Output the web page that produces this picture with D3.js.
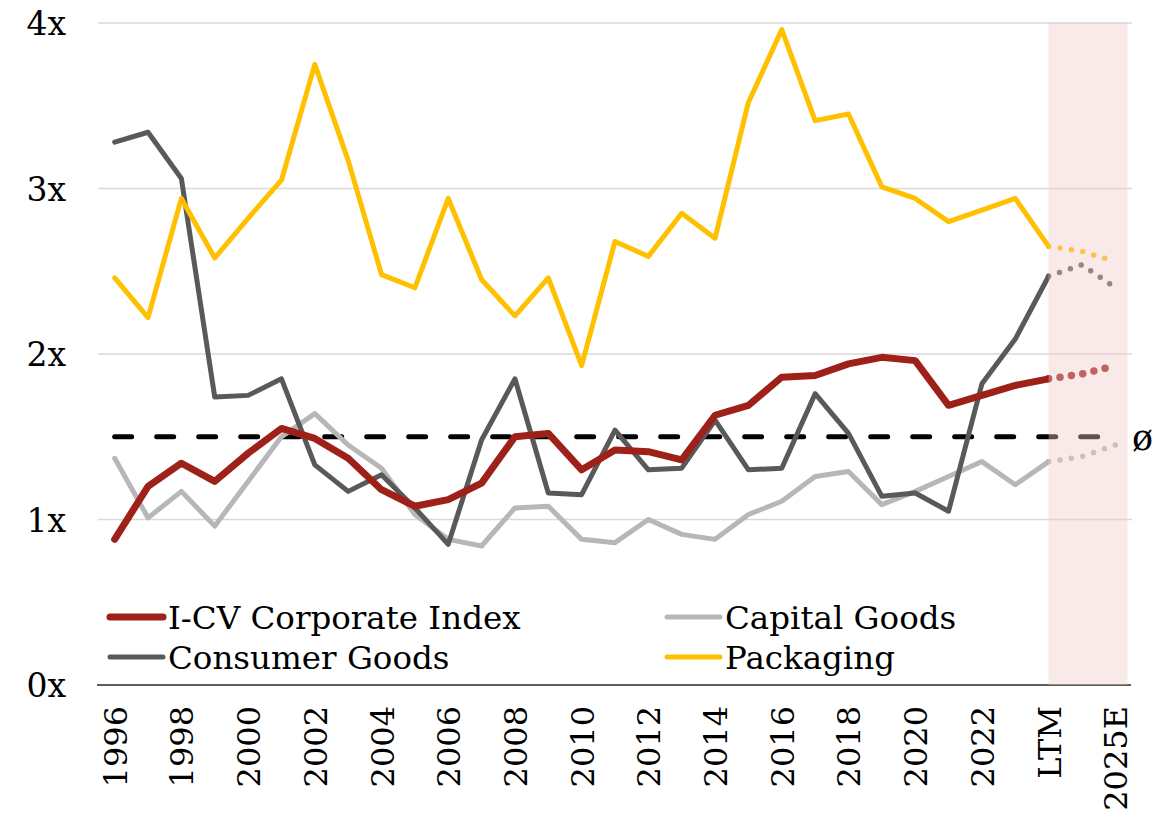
<!DOCTYPE html>
<html>
<head>
<meta charset="utf-8">
<script src="https://cdn.jsdelivr.net/npm/d3@7"></script>
<style>
  body { margin: 0; background: #fff; }
  text { font-family: "DejaVu Serif", serif; fill: #000; }
</style>
</head>
<body>
<div id="chart"></div>
<script>
const width = 1175;
const height = 816;

// categories and values
const categories = ["1996", "1997", "1998", "1999", "2000", "2001", "2002", "2003", "2004", "2005",
  "2006", "2007", "2008", "2009", "2010", "2011", "2012", "2013", "2014", "2015",
  "2016", "2017", "2018", "2019", "2020", "2021", "2022", "2023", "LTM", "2024E", "2025E"];
const tickLabels = ["1996", "1998", "2000", "2002", "2004", "2006", "2008", "2010", "2012",
  "2014", "2016", "2018", "2020", "2022", "LTM", "2025E"];
const yTicks = [0, 1, 2, 3, 4];

const icvIndex = [0.88, 1.20, 1.34, 1.23, 1.40, 1.55, 1.49, 1.37, 1.18, 1.08, 1.12, 1.22, 1.50, 1.52,
  1.30, 1.42, 1.41, 1.36, 1.63, 1.69, 1.86, 1.87, 1.94, 1.98, 1.96, 1.69, 1.75, 1.81, 1.85];
const capitalGoods = [1.37, 1.01, 1.17, 0.96, 1.23, 1.50, 1.64, 1.45, 1.31, 1.03, 0.88, 0.84, 1.07, 1.08,
  0.88, 0.86, 1.00, 0.91, 0.88, 1.03, 1.11, 1.26, 1.29, 1.09, 1.17, 1.26, 1.35, 1.21, 1.35];
const consumerGoods = [3.28, 3.34, 3.06, 1.74, 1.75, 1.85, 1.33, 1.17, 1.27, 1.07, 0.85, 1.48, 1.85, 1.16,
  1.15, 1.54, 1.30, 1.31, 1.60, 1.30, 1.31, 1.76, 1.52, 1.14, 1.16, 1.05, 1.82, 2.09, 2.47];
const packaging = [2.46, 2.22, 2.94, 2.58, 2.82, 3.05, 3.75, 3.17, 2.48, 2.40, 2.94, 2.45, 2.23, 2.46,
  1.93, 2.68, 2.59, 2.85, 2.70, 3.52, 3.96, 3.41, 3.45, 3.01, 2.94, 2.80, 2.87, 2.94, 2.65];

// LTM -> 2024E -> 2025E (dotted)
const forecastCats = ["LTM", "2024E", "2025E"];
const icvForecast = [1.85, 1.88, 1.93];
const capitalForecast = [1.35, 1.38, 1.45];
const consumerForecast = [2.47, 2.54, 2.40];
const packagingForecast = [2.65, 2.62, 2.56];

const average = 1.5;

const series = [
  { name: "Capital Goods", values: capitalGoods, forecast: capitalForecast, color: "#b7b7b7", w: 5 },
  { name: "Consumer Goods", values: consumerGoods, forecast: consumerForecast, color: "#595959", w: 5 },
  { name: "Packaging", values: packaging, forecast: packagingForecast, color: "#ffc000", w: 5 },
  { name: "I-CV Corporate Index", values: icvIndex, forecast: icvForecast, color: "#9e2119", w: 7 }
];

const svg = d3
  .select("#chart")
  .append("svg")
  .attr("width", width)
  .attr("height", height);

const xScale = d3.scalePoint().domain(categories).range([98, 1132]).padding(0.5);
const yScale = d3.scaleLinear().domain([0, 4]).range([685, 23]);

// gridlines
svg.append("g")
  .selectAll("line")
  .data(yTicks.filter((d) => d > 0))
  .enter()
  .append("line")
  .attr("x1", 98)
  .attr("x2", 1132)
  .attr("y1", (d) => yScale(d))
  .attr("y2", (d) => yScale(d))
  .attr("stroke", "#d9d9d9")
  .attr("stroke-width", 1.5);

// y labels
svg.append("g")
  .selectAll("text")
  .data(yTicks)
  .enter()
  .append("text")
  .attr("x", 66)
  .attr("y", (d) => yScale(d) + 12)
  .attr("text-anchor", "end")
  .style("font-size", "33px")
  .text((d) => d + "x");

// axis line
svg.append("line")
  .attr("x1", 97)
  .attr("x2", 1131)
  .attr("y1", yScale(0))
  .attr("y2", yScale(0))
  .attr("stroke", "#262626")
  .attr("stroke-width", 1.5);

// x labels (rotated)
svg.append("g")
  .selectAll("text")
  .data(tickLabels)
  .enter()
  .append("text")
  .attr("transform", (d) => "translate(" + (xScale(d) + 12) + ",706) rotate(-90)")
  .attr("text-anchor", "end")
  .style("font-size", "32px")
  .text((d) => d);

const line = d3.line()
  .x((d) => xScale(d[0]))
  .y((d) => yScale(d[1]));

// average line
svg.append("path")
  .attr("d", line([["1996", average], ["2025E", average]]))
  .attr("fill", "none")
  .attr("stroke", "#000")
  .attr("stroke-width", 5)
  .attr("stroke-linecap", "round")
  .attr("stroke-dasharray", "17 25");

svg.append("text")
  .attr("x", 1132)
  .attr("y", yScale(average) + 13)
  .style("font-size", "35px")
  .text("ø");

// series lines
series.forEach((s) => {
  svg.append("path")
    .attr("d", line(s.values.map((v, i) => [categories[i], v])))
    .attr("fill", "none")
    .attr("stroke", s.color)
    .attr("stroke-width", s.w)
    .attr("stroke-linejoin", "round")
    .attr("stroke-linecap", "round");

  svg.append("path")
    .attr("d", line(s.forecast.map((v, i) => [forecastCats[i], v])))
    .attr("fill", "none")
    .attr("stroke", s.color)
    .attr("stroke-width", s.w + 0.5)
    .attr("stroke-linecap", "round")
    .attr("stroke-dasharray", "0 11.5");
});

// forecast band on top
svg.append("rect")
  .attr("x", xScale("LTM"))
  .attr("y", yScale(4))
  .attr("width", xScale("2025E") - xScale("LTM") + 12)
  .attr("height", yScale(0) - yScale(4))
  .attr("fill", "rgb(240,200,200)")
  .attr("opacity", 0.4);

// legend
const legendItems = [
  { name: "I-CV Corporate Index", color: "#9e2119", w: 7, x: 110, y: 617 },
  { name: "Capital Goods", color: "#b7b7b7", w: 5, x: 667, y: 617 },
  { name: "Consumer Goods", color: "#595959", w: 5, x: 110, y: 657 },
  { name: "Packaging", color: "#ffc000", w: 5, x: 667, y: 657 }
];

const legend = svg.append("g")
  .selectAll("g")
  .data(legendItems)
  .enter()
  .append("g")
  .attr("transform", (d) => "translate(" + d.x + "," + d.y + ")");

legend.append("line")
  .attr("x1", 0)
  .attr("x2", 53)
  .attr("stroke", (d) => d.color)
  .attr("stroke-width", (d) => d.w)
  .attr("stroke-linecap", "round");

legend.append("text")
  .attr("x", 58)
  .attr("y", 12)
  .style("font-size", "32.5px")
  .text((d) => d.name);
</script>
</body>
</html>
